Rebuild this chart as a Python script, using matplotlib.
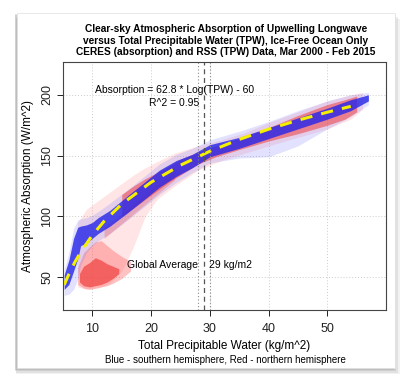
import matplotlib
matplotlib.use("Agg")
import matplotlib.pyplot as plt
from matplotlib.patches import Rectangle

plt.rcParams['font.family'] = ['Liberation Sans', 'DejaVu Sans']

# --- data ---
# blue (southern hemisphere): dense core band and light halo
blue_x = [5.2, 6.0, 6.8, 7.5, 8.0, 9.0, 10.0, 11.0, 13.0, 16.0, 18.6, 21.4, 24.3, 27.0, 30.0, 35.0, 40.0, 45.0, 50.0, 54.0, 57.0]
blue_lo = [40, 44, 55, 65, 76, 78, 82, 86, 92, 103, 113, 124, 133, 140, 149, 156, 164, 172, 180, 187, 195]
blue_hi = [52, 64, 82, 91, 92, 93, 95, 99, 105, 117, 127, 138, 146, 151, 159, 165, 173, 181, 189, 196, 200]
blue_halo_lo = [35, 36, 40, 48, 60, 70, 76, 80, 86, 97, 107, 118, 128, 136, 144, 148, 149, 158, 172, 182, 192]
blue_halo_hi = [56, 70, 90, 97, 98, 99, 101, 104, 111, 122, 132, 143, 151, 156, 163, 170, 178, 187, 195, 200, 202]

# red (northern hemisphere): low-TPW blob, main band, lower streak, halo
red_blob_x = [7.8, 8.5, 9.5, 10.5, 11.5, 12.5, 13.5, 14.5]
red_blob_lo = [46, 43, 42, 43, 44, 46, 49, 53]
red_blob_hi = [53, 59, 62, 66, 64, 61, 59, 57]
red_cloud_x = [7.5, 8.5, 9.5, 10.5, 11.5, 12.5, 13.5, 15.0, 16.5]
red_cloud_lo = [44, 41, 40, 41, 42, 43, 45, 49, 55]
red_cloud_hi = [58, 70, 75, 79, 80, 76, 72, 67, 63]
red_x = [15, 17, 19, 21, 23, 25, 28, 31, 35, 40, 45, 50, 53, 55]
red_lo = [100, 107, 114, 121, 128, 134, 143, 149, 155, 162, 168, 175, 180, 186]
red_hi = [118, 125, 131, 136, 141, 147, 153, 158, 164, 173, 183, 192, 196, 199]
red_streak_x = [12, 15, 18, 21, 24]
red_streak_lo = [82, 94, 106, 118, 130]
red_streak_hi = [91, 102, 114, 126, 137]
red_halo_x = [7.5, 9, 11, 13, 15, 17, 19, 21, 24, 28, 32, 36, 40, 45, 50, 54, 56]
red_halo_lo = [42, 40, 41, 45, 55, 75, 100, 114, 125, 138, 146, 152, 158, 165, 172, 180, 188]
red_halo_hi = [95, 106, 113, 120, 127, 134, 140, 145, 152, 158, 163, 169, 177, 186, 195, 200, 202]

# fitted curve (yellow dashed)
fit_x = [5.2, 6, 7, 8, 10, 12, 15, 20, 25, 30, 35, 40, 45, 50, 54]
fit_y = [43.6, 52.5, 62.2, 70.6, 84.6, 96.0, 110.1, 128.1, 142.1, 153.6, 163.3, 171.7, 179.1, 185.7, 190.5]

global_avg = 29
avg_band = [28, 30]
x_ticks = [10, 20, 30, 40, 50]
y_ticks = [50, 100, 150, 200]

fig = plt.figure(figsize=(4.14, 3.81), dpi=100)

# card with drop shadow
for i, a in enumerate([0.10, 0.14, 0.18, 0.22]):
    d = (4 - i) * 0.0035
    fig.patches.append(Rectangle((17/414 - 0.006 + d*0.3, 13/381 - d*1.2), (378/414) + d, (355/381) + 0.002,
                                 transform=fig.transFigure, facecolor='#808080', alpha=a, edgecolor='none', zorder=0))
fig.patches.append(Rectangle((17/414, 13/381), 378/414, 355/381, transform=fig.transFigure,
                             facecolor='white', edgecolor='#e0e0e0', linewidth=0.5, zorder=1))

ax = fig.add_axes([63/414, 71/381, 323/414, 248/381])
ax.set_zorder(2)
ax.patch.set_alpha(0)

ax.fill_between(red_halo_x, red_halo_lo, red_halo_hi, color='#ff7070', alpha=0.18, linewidth=0)
ax.fill_between(red_cloud_x, red_cloud_lo, red_cloud_hi, color='#ff5050', alpha=0.35, linewidth=0)
ax.fill_between(blue_x, blue_halo_lo, blue_halo_hi, color='#7070ff', alpha=0.2, linewidth=0)
ax.fill_between(red_blob_x, red_blob_lo, red_blob_hi, color='#f04040', alpha=0.7, linewidth=0)
ax.fill_between(red_streak_x, red_streak_lo, red_streak_hi, color='#f05050', alpha=0.3, linewidth=0)
ax.fill_between(red_x, red_lo, red_hi, color='#f03030', alpha=0.5, linewidth=0)
ax.fill_between(blue_x, blue_lo, blue_hi, color='#2828e8', alpha=0.82, linewidth=0)

ax.plot(fit_x, fit_y, color='#f5f000', lw=2.2, dashes=(4, 3))

ax.axvline(global_avg, color='#555555', lw=0.9, ls=(0, (4, 3)))
for v in avg_band:
    ax.axvline(v, color='#888888', lw=0.8, ls=(0, (1, 2)))

ax.set_xlim(5, 60)
ax.set_ylim(23, 227)
ax.set_xticks(x_ticks)
ax.set_yticks(y_ticks)
ax.grid(True, color='#cccccc', lw=0.7, ls=(0, (1, 2)))
ax.set_axisbelow(True)
ax.tick_params(direction='out', length=4, width=0.7, labelsize=9, colors='#222222')
ax.tick_params(axis='x', pad=5)
ax.tick_params(axis='y', pad=3)
for lab in ax.get_yticklabels():
    lab.set_rotation(90)
    lab.set_va('center')
for s in ax.spines.values():
    s.set_linewidth(0.8)
    s.set_color('#444444')

ax.set_xlabel('Total Precipitable Water (kg/m^2)', fontsize=8.5, labelpad=4)
ax.set_ylabel('Atmospheric Absorption (W/m^2)', fontsize=8.5, labelpad=5)

ax.text(24, 204, 'Absorption = 62.8 * Log(TPW) - 60', fontsize=7.5, ha='center', va='center')
ax.text(24, 193, 'R^2 = 0.95', fontsize=7.5, ha='center', va='center')
ax.text(28.0, 60, 'Global Average', fontsize=7.5, ha='right', va='center')
ax.text(29.8, 60, '29 kg/m2', fontsize=7.5, ha='left', va='center')

fig.text(0.545, 0.937, 'Clear-sky Atmospheric Absorption of Upwelling Longwave\n'
         'versus Total Precipitable Water (TPW), Ice-Free Ocean Only\n'
         'CERES (absorption) and RSS (TPW) Data, Mar 2000 - Feb 2015',
         ha='center', va='top', fontsize=7.3, fontweight='bold', linespacing=1.2)
fig.text(0.545, 0.055, 'Blue - southern hemisphere, Red - northern hemisphere',
         ha='center', va='center', fontsize=7)

fig.savefig('out.png', dpi=100)
